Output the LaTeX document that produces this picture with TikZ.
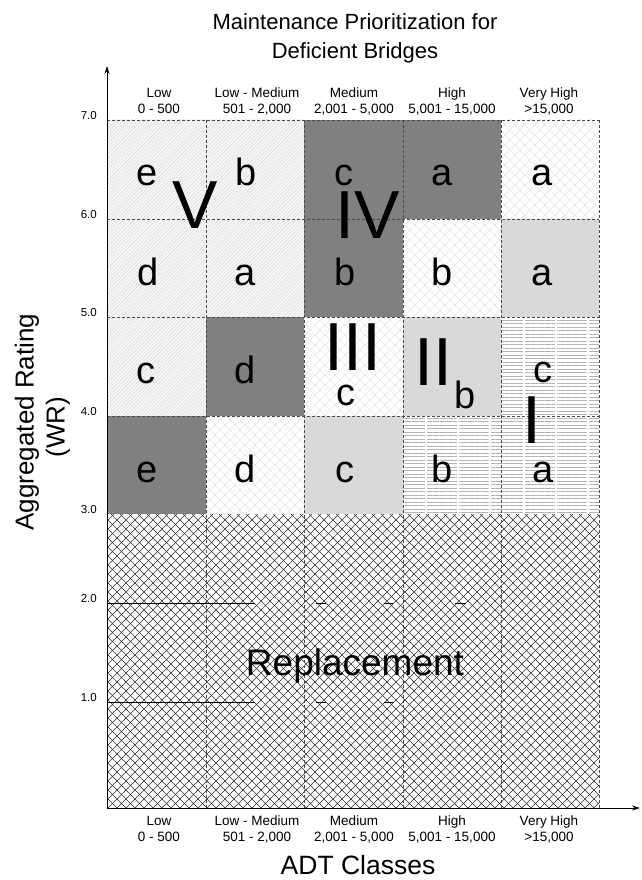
\documentclass[tikz,border=0pt]{standalone}
\usepackage{fontspec}
\setmainfont{Liberation Sans}
\usetikzlibrary{patterns.meta,arrows.meta}

\definecolor{darkcell}{HTML}{808080}
\definecolor{lightcell}{HTML}{D9D9D9}
\definecolor{gridline}{HTML}{4A4A4A}

\begin{document}
\begin{tikzpicture}[x=1pt,y=-1pt,
  fsz/.style={font=\fontsize{#1}{#1}\selectfont},
  diagcell/.style={fill=gray!6,
    postaction={pattern={Lines[angle=45,distance=2.6pt,line width=0.45pt]},pattern color=gray!32}},
  faintx/.style={fill=white,
    postaction={pattern={Lines[angle=45,distance=7.07pt,line width=0.5pt]},pattern color=gray!20},
    postaction={pattern={Lines[angle=-45,distance=7.07pt,line width=0.5pt]},pattern color=gray!20}},
  replfill/.style={fill=white,
    postaction={pattern={Lines[angle=45,distance=6.364pt,line width=0.65pt]},pattern color=gray!35!black},
    postaction={pattern={Lines[angle=-45,distance=6.364pt,line width=0.65pt]},pattern color=gray!35!black}},
  hlinefill/.style={fill=white,
    postaction={pattern={Lines[angle=0,distance=3.5pt,line width=0.8pt]},pattern color=gray!60}},
  darkfill/.style={fill=darkcell},
  lightfill/.style={fill=lightcell},
  gap/.style={draw=white,line width=1.6pt},
  cellgrid/.style={draw=gridline,line width=0.6pt,dash pattern=on 3pt off 2pt},
  levelline/.style={draw=black,line width=0.7pt},
  axis/.style={draw=black,line width=0.8pt,-{Stealth[length=8pt,width=5pt]}},
  letter/.style={fsz=38,anchor=base,inner sep=0pt},
  roman/.style={fsz=68,anchor=base,inner sep=0pt},
  tick/.style={fsz=11.5,anchor=east,inner sep=0pt},
  classlbl/.style={font=\fontsize{13.5}{16}\selectfont,align=center,inner sep=0pt},
]
\useasboundingbox (0,0) rectangle (641,880);
\fill[white] (0,0) rectangle (641,880);

% ---- cell fills (columns 107/206/304/403/501/599, rows 120/219/317/416/514)
% replacement band below 3.0
\path[replfill] (107,514) rectangle (599,808);

% light diagonal hatch
\path[diagcell] (107,120) rectangle (206,219);
\path[diagcell] (206,120) rectangle (304,219);
\path[diagcell] (107,219) rectangle (206,317);
\path[diagcell] (206,219) rectangle (304,317);
\path[diagcell] (107,317) rectangle (206,416);

% dark grey
\path[darkfill] (304,120) rectangle (403,219);
\path[darkfill] (403,120) rectangle (501,219);
\path[darkfill] (304,219) rectangle (403,317);
\path[darkfill] (206,317) rectangle (304,416);
\path[darkfill] (107,416) rectangle (206,514);

% faint cross hatch
\path[faintx] (501,120) rectangle (599,219);
\path[faintx] (403,219) rectangle (501,317);
\path[faintx] (304,317) rectangle (403,416);
\path[faintx] (206,416) rectangle (304,514);

% light grey
\path[lightfill] (501,219) rectangle (599,317);
\path[lightfill] (403,317) rectangle (501,416);
\path[lightfill] (304,416) rectangle (403,514);

% horizontal lines with white vertical gaps
\path[hlinefill] (501,317) rectangle (599,416);
\path[hlinefill] (403,416) rectangle (599,514);
\foreach \gx in {426,458,490,524,556,588}{
  \draw[gap] (\gx,416) -- (\gx,514);
}
\foreach \gx in {524,556,588}{
  \draw[gap] (\gx,317) -- (\gx,416);
}

% ---- dashed cell grid
\foreach \gx in {206,304,403,501,599}{
  \draw[cellgrid] (\gx,120) -- (\gx,808);
}
\foreach \gy in {120,219,317,416}{
  \draw[cellgrid] (107,\gy) -- (599,\gy);
}

% ---- rating lines inside the replacement band
\draw[levelline] (107,603) -- (255,603);
\draw[levelline] (316,603) -- (326,603);
\draw[levelline] (384,603) -- (393,603);
\draw[levelline] (455,603) -- (466,603);
\draw[levelline] (107,702) -- (255,702);
\draw[levelline] (316,702) -- (326,702);
\draw[levelline] (384,702) -- (393,702);

% ---- axes
\coordinate (origin) at (107,808);
\coordinate (ytip) at (107,66);
\coordinate (xtip) at (640,808);
\draw[axis] (origin) -- (ytip);
\draw[axis] (origin) -- (xtip);

% ---- tick labels
\node[tick] (t7) at (97,116) {7.0};
\node[tick] (t6) at (97,215) {6.0};
\node[tick] (t5) at (97,313) {5.0};
\node[tick] (t4) at (97,412) {4.0};
\node[tick] (t3) at (97,510) {3.0};
\node[tick] (t2) at (97,599) {2.0};
\node[tick] (t1) at (97,698) {1.0};

% ---- title and axis titles
\node[fsz=22,align=center,inner sep=0pt] (title) at (355,38)
  {Maintenance Prioritization for\\[7pt]Deficient Bridges};
\node[fsz=26.5,inner sep=0pt] (xtitle) at (358,865) {ADT Classes};
\node[fsz=26,rotate=90,inner sep=0pt] (ytitle) at (27,422) {Aggregated Rating};
\node[fsz=26,rotate=90,inner sep=0pt] (ywr) at (58,427) {(WR)};

% ---- ADT class headers (top and bottom)
\node[classlbl] (h1) at (159,101) {Low\\0 - 500};
\node[classlbl] (h2) at (257,101) {Low - Medium\\501 - 2,000};
\node[classlbl] (h3) at (354,101) {Medium\\2,001 - 5,000};
\node[classlbl] (h4) at (452,101) {High\\5,001 - 15,000};
\node[classlbl] (h5) at (549,101) {Very High\\>15,000};
\node[classlbl] (b1) at (159,829) {Low\\0 - 500};
\node[classlbl] (b2) at (257,829) {Low - Medium\\501 - 2,000};
\node[classlbl] (b3) at (354,829) {Medium\\2,001 - 5,000};
\node[classlbl] (b4) at (452,829) {High\\5,001 - 15,000};
\node[classlbl] (b5) at (549,829) {Very High\\>15,000};

% ---- priority letters
\node[letter] (r7c1) at (147,185) {e};
\node[letter] (r7c2) at (246,185) {b};
\node[letter] (r7c3) at (344,185) {c};
\node[letter] (r7c4) at (442,185) {a};
\node[letter] (r7c5) at (542,185) {a};

\node[letter] (r6c1) at (148,285) {d};
\node[letter] (r6c2) at (245,285) {a};
\node[letter] (r6c3) at (345,285) {b};
\node[letter] (r6c4) at (442,285) {b};
\node[letter] (r6c5) at (542,285) {a};

\node[letter] (r5c1) at (146,383) {c};
\node[letter] (r5c2) at (245,383) {d};
\node[letter] (r5c3) at (346,405) {c};
\node[letter] (r5c4) at (465,408) {b};
\node[letter] (r5c5) at (543,382) {c};

\node[letter] (r4c1) at (147,482) {e};
\node[letter] (r4c2) at (245,482) {d};
\node[letter] (r4c3) at (345,482) {c};
\node[letter] (r4c4) at (442,482) {b};
\node[letter] (r4c5) at (543,482) {a};

% ---- priority groups
\node[roman] (gV)   at (195,228) {V};
\node[roman] (gIV)  at (368,238) {IV};
\node[roman] (gIII) at (353,370) {III};
\node[roman] (gII)  at (433,385) {II};
\node[roman] (gI)   at (532,443) {I};

\node[fsz=37,anchor=base,inner sep=0pt] (repl) at (355,675) {Replacement};
\end{tikzpicture}
\end{document}
